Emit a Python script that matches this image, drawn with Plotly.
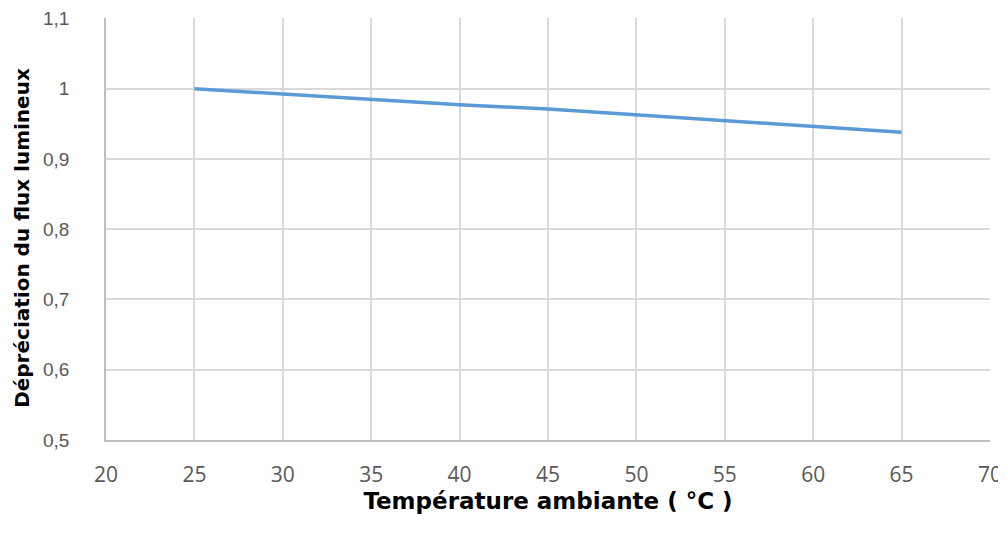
import plotly.graph_objects as go

temperature = [25, 30, 35, 40, 45, 50, 55, 60, 65]
flux = [1.0, 0.9925, 0.984, 0.977, 0.971, 0.963, 0.9545, 0.947, 0.938]

x_ticks = [20, 25, 30, 35, 40, 45, 50, 55, 60, 65, 70]
y_ticks = [0.5, 0.6, 0.7, 0.8, 0.9, 1.0, 1.1]
y_tick_text = ["0,5", "0,6", "0,7", "0,8", "0,9", "1", "1,1"]

fig = go.Figure()
fig.add_trace(go.Scatter(
    x=temperature, y=flux, mode="lines",
    line=dict(color="#5B9BD5", width=3.5),
    showlegend=False,
))

fig.add_annotation(
    text="<b>Dépréciation du flux lumineux</b>",
    xref="paper", yref="paper", x=0, y=0.479, xshift=-84,
    xanchor="center", yanchor="middle", textangle=-90, showarrow=False,
    font=dict(family="DejaVu Sans, sans-serif", size=20, color="#000000"),
)

fig.update_layout(
    width=1006, height=538,
    margin=dict(l=98, r=24, t=10, b=106),
    paper_bgcolor="white", plot_bgcolor="white",
    separators=", ",
    xaxis=dict(
        range=[20, 70], tickvals=x_ticks, automargin=False,
        showgrid=True, gridcolor="#D9D9D9", gridwidth=1.5,
        zeroline=False, showline=True, linecolor="#BFBFBF", linewidth=1.5,
        ticks="", ticklabelstandoff=15,
        tickfont=dict(family="Open Sans, sans-serif", size=21, color="#595959"),
        title=dict(text="<b>Température ambiante ( °C )</b>", standoff=1,
                   font=dict(family="DejaVu Sans, sans-serif", size=23, color="#000000")),
    ),
    yaxis=dict(
        range=[0.5, 1.1005], tickvals=y_ticks, ticktext=y_tick_text, automargin=False,
        showgrid=True, gridcolor="#D9D9D9", gridwidth=1.5,
        zeroline=False, showline=True, linecolor="#BFBFBF", linewidth=1.5,
        ticks="", ticklabelstandoff=31,
        tickfont=dict(family="Liberation Sans, Arial, sans-serif", size=19, color="#595959"),
    ),
)

fig.write_html("out.html")
